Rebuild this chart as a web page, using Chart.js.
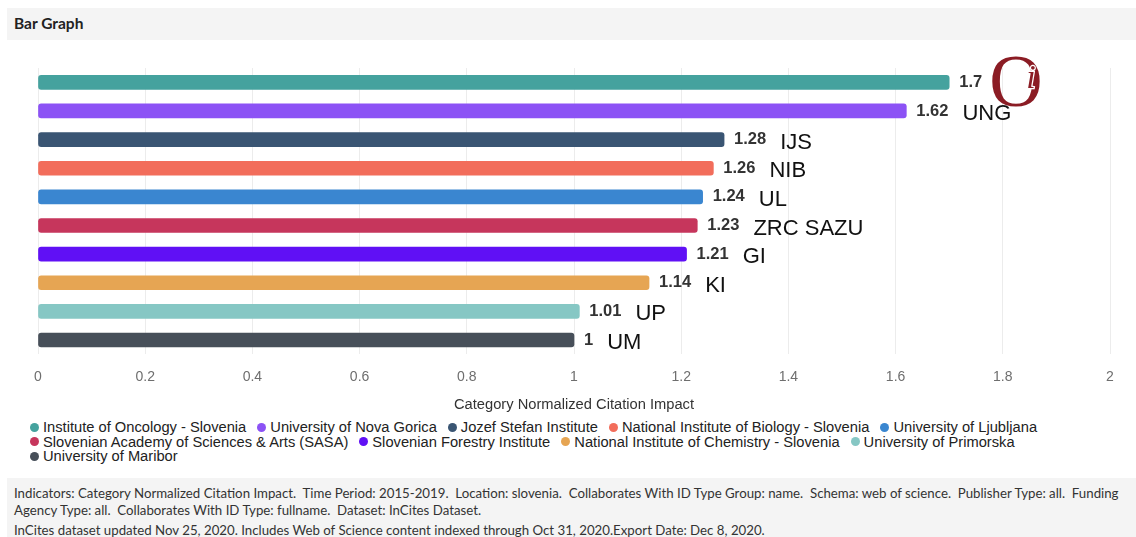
<!DOCTYPE html>
<html>
<head>
<meta charset="utf-8">
<script src="https://cdn.jsdelivr.net/npm/chart.js@4.4.1/dist/chart.umd.min.js"></script>
<style>
  html, body { margin: 0; padding: 0; background: #fff; }
  body { width: 1136px; height: 537px; position: relative; overflow: hidden; font-family: "Liberation Sans", Arial, sans-serif; }
  .header { position: absolute; left: 7px; top: 8px; right: 0; height: 32px; background: #f4f4f4; }
  .header span { position: absolute; left: 7px; top: 6px; font: bold 15.5px "Lato", "Open Sans", sans-serif; color: #222; }
  .chart-box { position: absolute; left: 0; top: 40px; width: 1136px; height: 376px; }
  .legend { position: absolute; left: 30px; top: 420px; width: 1090px; display: flex; flex-wrap: wrap; column-gap: 11px; font-size: 14.7px; line-height: 14.5px; color: #222; }
  .legend .item { display: flex; align-items: center; white-space: nowrap; }
  .legend .dot { width: 9px; height: 9px; border-radius: 50%; margin-right: 4px; }
  .footer { position: absolute; left: 7px; top: 478px; right: 0; bottom: 0; background: #f4f4f4; font: 13.25px "Lato", sans-serif; color: #333; }
  .footer div { position: absolute; left: 7px; white-space: nowrap; }
</style>
</head>
<body>
<div class="header"><span>Bar Graph</span></div>
<div class="chart-box"><canvas id="chart"></canvas></div>
<div class="legend" id="legend"></div>
<div class="footer">
  <div style="top: 7px;">Indicators: Category Normalized Citation Impact.&nbsp; Time Period: 2015-2019.&nbsp; Location: slovenia.&nbsp; Collaborates With ID Type Group: name.&nbsp; Schema: web of science.&nbsp; Publisher Type: all.&nbsp; Funding</div>
  <div style="top: 24px;">Agency Type: all.&nbsp; Collaborates With ID Type: fullname.&nbsp; Dataset: InCites Dataset.</div>
  <div style="top: 44px;">InCites dataset updated Nov 25, 2020. Includes Web of Science content indexed through Oct 31, 2020.Export Date: Dec 8, 2020.</div>
</div>
<script>
const institutions = [
  'Institute of Oncology - Slovenia',
  'University of Nova Gorica',
  'Jozef Stefan Institute',
  'National Institute of Biology - Slovenia',
  'University of Ljubljana',
  'Slovenian Academy of Sciences & Arts (SASA)',
  'Slovenian Forestry Institute',
  'National Institute of Chemistry - Slovenia',
  'University of Primorska',
  'University of Maribor'
];
const shortNames = ['', 'UNG', 'IJS', 'NIB', 'UL', 'ZRC SAZU', 'GI', 'KI', 'UP', 'UM'];
const cnciValues = [1.7, 1.62, 1.28, 1.26, 1.24, 1.23, 1.21, 1.14, 1.01, 1];
const barColors = ['#45a29e', '#8c52f5', '#3a5573', '#f26d5b', '#3a86d0', '#c6365c', '#6010f5', '#e6a553', '#86c7c4', '#474f59'];
const xTicks = [0, 0.2, 0.4, 0.6, 0.8, 1, 1.2, 1.4, 1.6, 1.8, 2];

// value + abbreviation next to each bar, logo for the first one
const barLabels = {
  id: 'barLabels',
  afterDatasetsDraw(chart) {
    const ctx = chart.ctx;
    const meta = chart.getDatasetMeta(0);
    ctx.save();
    meta.data.forEach((bar, i) => {
      const txt = String(cnciValues[i]);
      ctx.font = 'bold 16.5px "Liberation Sans", Arial, sans-serif';
      ctx.fillStyle = '#333';
      ctx.textAlign = 'left';
      ctx.textBaseline = 'middle';
      const vx = bar.x + 10;
      ctx.fillText(txt, vx, bar.y);
      const w = ctx.measureText(txt).width;
      if (i === 0) {
        ctx.fillStyle = '#8b1c24';
        ctx.font = '74px "Liberation Serif", serif';
        ctx.fillText('O', vx + w + 7, bar.y + 4);
        ctx.font = 'italic 34px "Liberation Serif", serif';
        ctx.strokeStyle = '#fff';
        ctx.lineWidth = 2.5;
        ctx.strokeText('i', vx + w + 44, bar.y - 3);
        ctx.fillText('i', vx + w + 44, bar.y - 3);
      } else {
        ctx.font = '22px "Liberation Sans", Arial, sans-serif';
        ctx.fillStyle = '#111';
        ctx.fillText(shortNames[i], vx + w + 14, bar.y + 3);
      }
    });
    ctx.restore();
  }
};

new Chart(document.getElementById('chart'), {
  type: 'bar',
  data: {
    labels: institutions,
    datasets: [{
      label: 'Category Normalized Citation Impact',
      data: cnciValues,
      backgroundColor: barColors,
      borderRadius: 3,
      borderSkipped: false,
      barThickness: 14
    }]
  },
  options: {
    indexAxis: 'y',
    responsive: true,
    maintainAspectRatio: false,
    animation: false,
    layout: { padding: { left: 38, right: 26, top: 28, bottom: 2 } },
    plugins: {
      legend: { display: false },
      tooltip: { enabled: false }
    },
    scales: {
      x: {
        min: 0,
        max: 2,
        afterBuildTicks: (axis) => { axis.ticks = xTicks.map(v => ({ value: v })); },
        grid: { color: '#ececec', drawTicks: false },
        border: { display: false },
        ticks: {
          padding: 14.6,
          color: '#6e6e6e',
          font: { size: 14, family: '"Liberation Sans", Arial, sans-serif' },
          callback: (v) => String(v)
        },
        title: {
          display: true,
          text: 'Category Normalized Citation Impact',
          color: '#333',
          font: { size: 14.7, family: '"Liberation Sans", Arial, sans-serif' },
          padding: { top: -4, bottom: 0 }
        }
      },
      y: { display: false }
    }
  },
  plugins: [barLabels]
});

const legendBox = document.getElementById('legend');
institutions.forEach((name, i) => {
  const item = document.createElement('div');
  item.className = 'item';
  const dot = document.createElement('span');
  dot.className = 'dot';
  dot.style.background = barColors[i];
  item.appendChild(dot);
  item.appendChild(document.createTextNode(name));
  legendBox.appendChild(item);
});
</script>
</body>
</html>
